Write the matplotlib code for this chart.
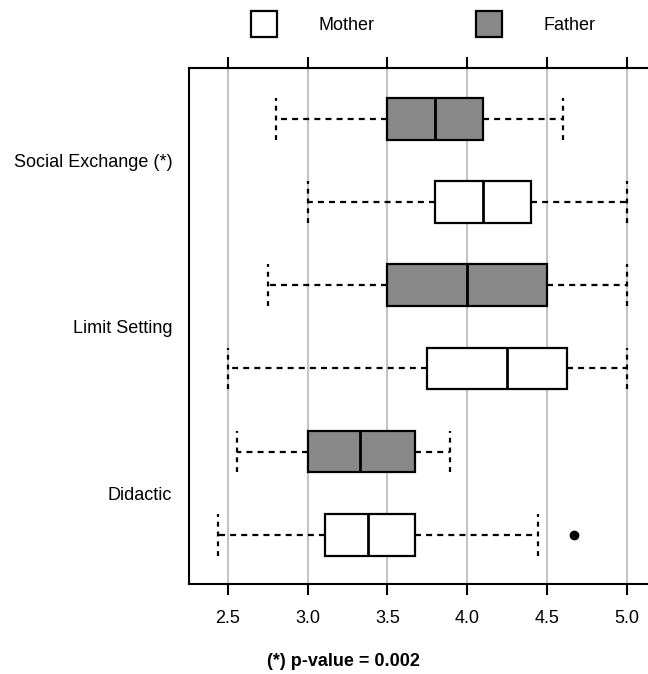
import matplotlib.pyplot as plt
from matplotlib.patches import Patch

plt.rcParams['font.family'] = ['Liberation Sans', 'DejaVu Sans']

# Data (scores 1-5 scale)
categories = ['Social Exchange (*)', 'Limit Setting', 'Didactic']
groups = ['Father', 'Mother']

# per category: [Father, Mother]
whislo = [[2.80, 3.00], [2.75, 2.50], [2.56, 2.44]]
q1 = [[3.50, 3.80], [3.50, 3.75], [3.00, 3.11]]
med = [[3.80, 4.10], [4.00, 4.25], [3.33, 3.38]]
q3 = [[4.10, 4.40], [4.50, 4.625], [3.67, 3.67]]
whishi = [[4.60, 5.00], [5.00, 5.00], [3.89, 4.44]]
fliers = [[[], []], [[], []], [[], [4.67]]]

colors = {'Father': '#888888', 'Mother': 'white'}

fig = plt.figure(figsize=(6.48, 6.74), dpi=100)
ax = fig.add_axes([189 / 648, 1 - 584 / 674, (5.3 - 2.258) * 159.8 / 648, 516 / 674])

stats, positions, facecols = [], [], []
pos = 6
for i, cat in enumerate(categories):
    for j, g in enumerate(groups):
        stats.append(dict(whislo=whislo[i][j], q1=q1[i][j], med=med[i][j],
                          q3=q3[i][j], whishi=whishi[i][j], fliers=fliers[i][j]))
        positions.append(pos)
        facecols.append(colors[g])
        pos -= 1

bp = ax.bxp(stats, positions=positions, vert=False, widths=0.5, patch_artist=True,
            capwidths=0.5,
            boxprops=dict(edgecolor='black', linewidth=1.6),
            medianprops=dict(color='black', linewidth=2),
            whiskerprops=dict(color='black', linewidth=1.6, linestyle=(0, (2.7, 2.3))),
            capprops=dict(color='black', linewidth=1.6, linestyle=(0, (2.2, 2.2))),
            flierprops=dict(marker='o', markerfacecolor='black', markeredgecolor='black',
                            markersize=6))
for box, c in zip(bp['boxes'], facecols):
    box.set_facecolor(c)

ax.set_xlim(2.258, 5.3)
ax.set_ylim(0.41, 6.61)
ax.set_xticks([2.5, 3.0, 3.5, 4.0, 4.5, 5.0])
ax.set_xticklabels(['2.5', '3.0', '3.5', '4.0', '4.5', '5.0'], fontsize=13)
ax.xaxis.grid(True, color='#c4c4c4', linewidth=1.5)
ax.set_axisbelow(True)
ax.tick_params(axis='x', top=True, bottom=True, direction='out', length=8, width=1.5, pad=11)

ax.set_yticks([5.5, 3.5, 1.5])
ax.set_yticklabels(categories, fontsize=13)
ax.tick_params(axis='y', length=0, pad=12)

for s in ax.spines.values():
    s.set_linewidth(1.5)

handles = [Patch(facecolor='white', edgecolor='black', linewidth=1.6, label='Mother'),
           Patch(facecolor='#888888', edgecolor='black', linewidth=1.6, label='Father')]
fig.legend(handles=handles, loc='center', bbox_to_anchor=(423 / 648, 1 - 24 / 674),
           ncol=2, frameon=False, fontsize=13, handlelength=1.45, handleheight=1.9,
           handletextpad=2.3, columnspacing=5.6)

fig.text(343 / 648, 1 - 662 / 674, '(*) p-value = 0.002', ha='center', va='center',
         fontsize=13, fontweight='bold')

fig.savefig('out.png', dpi=100)
